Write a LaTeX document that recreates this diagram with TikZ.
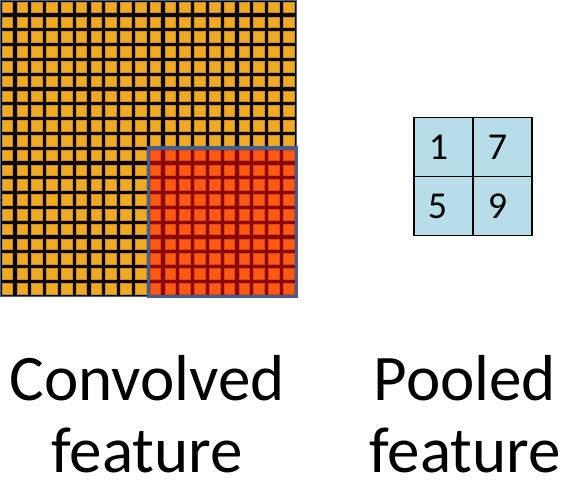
\documentclass[tikz,border=0pt]{standalone}
\usepackage{fontspec}
\setmainfont{Carlito}
\definecolor{orcell}{HTML}{EEAA24}
\definecolor{orline}{HTML}{D08E14}
\definecolor{rdcell}{HTML}{FF5A14}
\definecolor{rdline}{HTML}{E0440C}
\definecolor{rdbg}{HTML}{8A0800}
\definecolor{frame}{HTML}{3F6090}
\definecolor{pool}{HTML}{B7DDE8}
\begin{document}
\begin{tikzpicture}[x=1pt,y=-1pt,
  poolcell/.style={draw=black,line width=1.4pt,fill=pool,minimum size=59pt,inner sep=0pt},
  digit/.style={font=\fontsize{38}{44}\selectfont,inner sep=0pt},
  caption/.style={align=center,font=\fontsize{65}{72}\selectfont,inner sep=0pt}]
\useasboundingbox (0,0) rectangle (569,489);
% big grid background
\fill[black] (0,0) rectangle (296.5,296.5);
\fill[rdbg] (148,148) rectangle (296.5,296.5);
\foreach \i in {0,...,19}{
  \foreach \j in {0,...,19}{
    \pgfmathsetmacro{\xa}{\i*14.8+2.2}
    \pgfmathsetmacro{\ya}{\j*14.8+2.2}
    \ifnum\i>9 \ifnum\j>9
      \filldraw[fill=rdcell,draw=rdline,line width=0.8pt] (\xa,\ya) rectangle ++(10.6,10.6);
    \else
      \filldraw[fill=orcell,draw=orline,line width=0.8pt] (\xa,\ya) rectangle ++(10.6,10.6);
    \fi\else
      \filldraw[fill=orcell,draw=orline,line width=0.8pt] (\xa,\ya) rectangle ++(10.6,10.6);
    \fi
  }
}
\draw[frame,line width=1.6pt] (0,0) rectangle (296.5,296.5);
\draw[frame,line width=3pt] (148,148) rectangle (296.5,296.5);
% pooled feature
\node[poolcell] (p1) at (443.5,147) {};
\node[poolcell] (p7) at (502.5,147) {};
\node[poolcell] (p5) at (443.5,206) {};
\node[poolcell] (p9) at (502.5,206) {};
\node[digit] (t1) at ([xshift=-5pt]p1.center) {1};
\node[digit] (t7) at ([xshift=-5pt]p7.center) {7};
\node[digit] (t5) at ([xshift=-6pt]p5.center) {5};
\node[digit] (t9) at ([xshift=-5pt]p9.center) {9};
% captions
\node[caption,anchor=base] (conv) at (147,400) {Convolved};
\node[caption,anchor=base] (convf) at (147,472) {feature};
\node[caption,anchor=base] (pool) at (465,400) {Pooled};
\node[caption,anchor=base] (poolf) at (465,472) {feature};
\end{tikzpicture}
\end{document}
